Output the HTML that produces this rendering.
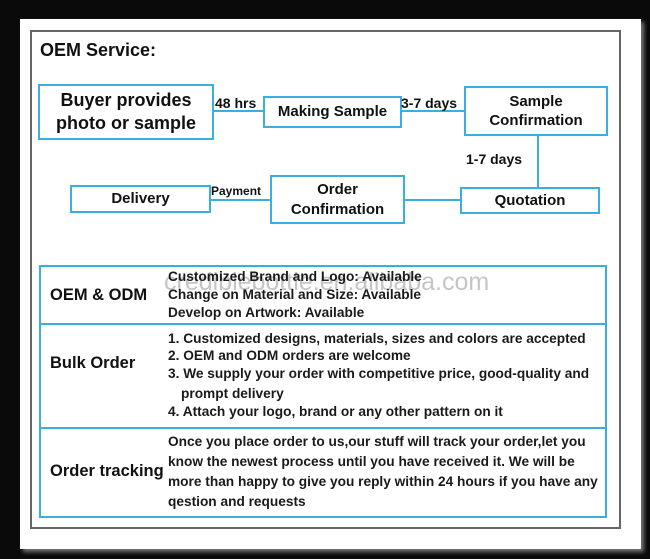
<!DOCTYPE html>
<html><head><meta charset="utf-8"><style>
body{margin:0;width:650px;height:559px;background:#0a0a0a;position:relative;overflow:hidden;font-family:"Liberation Sans",sans-serif;color:#111}
div{position:absolute;box-sizing:border-box}
.t{white-space:nowrap;font-weight:bold}
.b{border:2px solid #3aaee0;background:#fff;display:flex;align-items:center;justify-content:center;text-align:center;font-weight:bold;line-height:1.3}
.h{height:2px;background:#3aaee0}
.v{width:2px;background:#3aaee0}
.s{font-size:13.7px;left:168px;color:#1a1a1a}
</style></head><body>
<div style="left:20px;top:19px;width:621px;height:530px;background:#fff;box-shadow:3px 3px 4px #777"></div>
<div style="left:30px;top:30px;width:591px;height:499px;border:2px solid #666"></div>
<div class="t" style="left:40px;top:40px;font-size:18px">OEM Service:</div>

<div class="h" style="left:213px;top:110px;width:52px"></div>
<div class="h" style="left:400px;top:110px;width:66px"></div>
<div class="v" style="left:537px;top:134px;height:54px"></div>
<div class="h" style="left:403px;top:199px;width:58px"></div>
<div class="h" style="left:209px;top:199px;width:62px"></div>

<div class="b" style="left:38px;top:84px;width:176px;height:56px;font-size:18px">Buyer provides<br>photo or sample</div>
<div class="b" style="left:263px;top:96px;width:139px;height:32px;font-size:15px">Making Sample</div>
<div class="b" style="left:464px;top:86px;width:144px;height:50px;font-size:15px">Sample<br>Confirmation</div>
<div class="b" style="left:460px;top:187px;width:140px;height:27px;font-size:15px">Quotation</div>
<div class="b" style="left:270px;top:175px;width:135px;height:49px;font-size:15px">Order<br>Confirmation</div>
<div class="b" style="left:70px;top:185px;width:141px;height:28px;font-size:15px">Delivery</div>

<div class="t" style="left:215px;top:95px;font-size:14px">48 hrs</div>
<div class="t" style="left:401px;top:95px;font-size:14px">3-7 days</div>
<div class="t" style="left:466px;top:151px;font-size:14px">1-7 days</div>
<div class="t" style="left:211px;top:184px;font-size:12px">Payment</div>

<div style="left:39px;top:265px;width:568px;height:253px;border:2px solid #3aaee0"></div>
<div class="h" style="left:39px;top:323px;width:568px"></div>
<div class="h" style="left:39px;top:427px;width:568px"></div>

<div class="t" style="left:50px;top:286px;font-size:16.5px">OEM &amp; ODM</div>
<div class="t" style="left:50px;top:354px;font-size:16.5px">Bulk Order</div>
<div class="t" style="left:50px;top:462px;font-size:16.5px">Order tracking</div>

<div style="left:164px;top:268px;font-size:25px;color:rgba(150,150,150,0.55);white-space:nowrap">crediblebottle.en.alibaba.com</div>

<div class="t s" style="top:269px">Customized Brand and Logo: Available</div>
<div class="t s" style="top:287px">Change on Material and Size: Available</div>
<div class="t s" style="top:305px">Develop on Artwork: Available</div>

<div class="t s" style="top:331px">1. Customized designs, materials, sizes and colors are accepted</div>
<div class="t s" style="top:348px">2. OEM and ODM orders are welcome</div>
<div class="t s" style="top:366px">3. We supply your order with competitive price, good-quality and</div>
<div class="t s" style="top:386px;left:181px">prompt delivery</div>
<div class="t s" style="top:404px">4. Attach your logo, brand or any other pattern on it</div>

<div class="t s" style="top:434px">Once you place order to us,our stuff will track your order,let you</div>
<div class="t s" style="top:454px">know the newest process until you have received it. We will be</div>
<div class="t s" style="top:474px">more than happy to give you reply within 24 hours if you have any</div>
<div class="t s" style="top:494px">qestion and requests</div>
</body></html>
